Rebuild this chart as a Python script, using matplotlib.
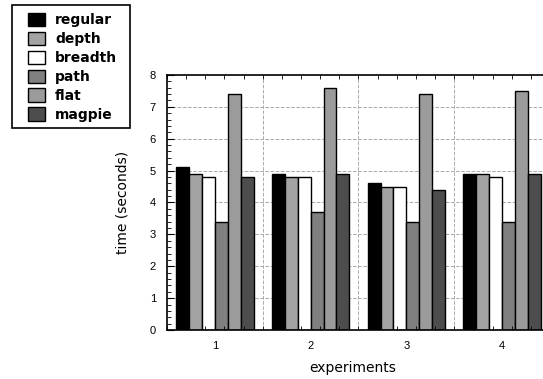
import matplotlib
matplotlib.use("Agg")
import matplotlib.pyplot as plt
import numpy as np
from matplotlib.ticker import MultipleLocator, FixedLocator
from matplotlib.patches import Rectangle

experiments = [1, 2, 3, 4]
series_names = ["regular", "depth", "breadth", "path", "flat", "magpie"]
regular = [5.1, 4.9, 4.6, 4.9]
depth = [4.9, 4.8, 4.5, 4.9]
breadth = [4.8, 4.8, 4.5, 4.8]
path = [3.4, 3.7, 3.4, 3.4]
flat = [7.4, 7.6, 7.4, 7.5]
magpie = [4.8, 4.9, 4.4, 4.9]
series = [regular, depth, breadth, path, flat, magpie]
colors = ["#000000", "#a3a3a3", "#ffffff", "#808080", "#9b9b9b", "#4d4d4d"]

plt.rcParams['font.family'] = ['Liberation Sans', 'DejaVu Sans']

W, H = 543, 379
fig = plt.figure(figsize=(W / 100, H / 100), dpi=100)
ax = fig.add_axes([167 / W, 1 - 330 / H, 383 / W, 255 / H])

w = 0.135
x = np.array(experiments, dtype=float)
handles = []
for i, (vals, c, name) in enumerate(zip(series, colors, series_names)):
    off = (i - 2.5) * w
    h = ax.bar(x + off, vals, width=w, color=c, edgecolor="black", linewidth=1.0, label=name, zorder=1)
    handles.append(h)

ax.set_xlim(0.5, 4.5)
ax.set_ylim(0, 8)
ax.set_axisbelow(False)
ax.set_xticks(experiments)
ax.xaxis.set_minor_locator(FixedLocator(np.arange(0.5, 4.51, 0.2)))
ax.yaxis.set_major_locator(MultipleLocator(1))
ax.yaxis.set_minor_locator(MultipleLocator(0.2))
ax.tick_params(axis='both', which='both', direction='in', labelsize=8, top=True, right=False)
ax.tick_params(axis='y', which='major', length=5, pad=8)
ax.tick_params(axis='y', which='minor', length=3)
ax.tick_params(axis='x', which='major', length=0, pad=8)
ax.tick_params(axis='x', which='minor', length=3)
for yv in range(1, 8):
    ax.axhline(yv, linestyle='--', color='#aaaaaa', linewidth=0.7, zorder=0.5)
for xv in [1.5, 2.5, 3.5]:
    ax.axvline(xv, linestyle='--', color='#aaaaaa', linewidth=0.7, zorder=0.5)
ax.set_xlabel("experiments", fontsize=10, family=['DejaVu Sans'])
ax.set_ylabel("time (seconds)", fontsize=10, family=['DejaVu Sans'])
ax.xaxis.set_label_coords(0.486, -0.12)
ax.xaxis.label.set_va('top')
ax.yaxis.set_label_coords(-0.097, 0.5)
for s in ax.spines.values():
    s.set_linewidth(1.2)
    s.set_zorder(3)

leg = fig.legend(handles=handles, labels=series_names, loc='upper left',
                 bbox_to_anchor=(28 / W, 1 - 13 / H), frameon=False,
                 prop={'weight': 'bold', 'size': 10, 'family': ['DejaVu Sans']},
                 handlelength=1.22, handleheight=1.1, labelspacing=0.32,
                 handletextpad=0.72, borderpad=0.0, borderaxespad=0.0)
fig.patches.append(Rectangle((12 / W, 1 - 128 / H), 118 / W, 123 / H,
                             transform=fig.transFigure, fill=False,
                             edgecolor='black', linewidth=1.2))

fig.savefig("out.png", dpi=100)
